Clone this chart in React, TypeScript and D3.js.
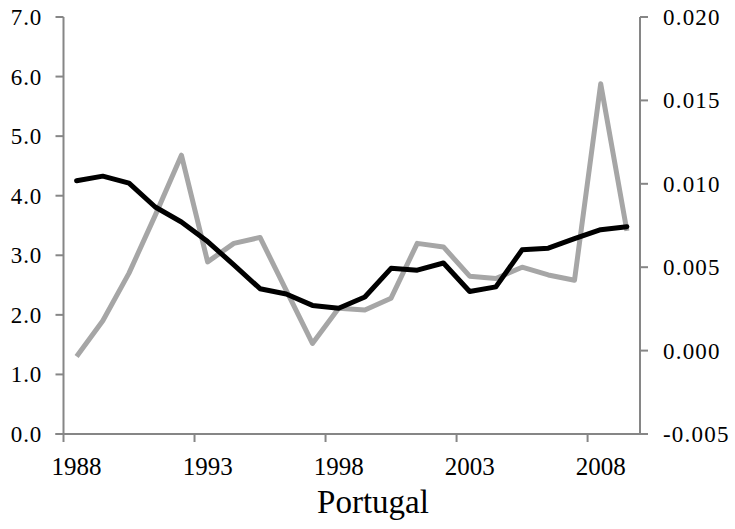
import { useEffect, useRef } from 'react';
import * as d3 from 'd3';

const years = d3.range(1988, 2010).map(String);
const grayValues = [1.30, 1.90, 2.70, 3.67, 4.68, 2.89, 3.20, 3.30, 2.41, 1.52, 2.11, 2.08, 2.28, 3.20, 3.14, 2.65, 2.61, 2.80, 2.67, 2.58, 5.88, 3.41];
const blackValues = [0.01018, 0.01046, 0.01004, 0.00861, 0.00771, 0.00654, 0.00514, 0.00371, 0.00339, 0.00271, 0.00254, 0.00321, 0.00493, 0.00482, 0.00525, 0.00354, 0.00382, 0.00604, 0.00614, 0.00671, 0.00725, 0.00743];
const leftTicks = [0, 1, 2, 3, 4, 5, 6, 7];
const rightTicks = [-0.005, 0, 0.005, 0.01, 0.015, 0.02];
const yearLabels = ['1988', '1993', '1998', '2003', '2008'];
const title = 'Portugal';

export default function App() {
  const ref = useRef<SVGSVGElement>(null);

  useEffect(() => {
    const svg = d3.select(ref.current);
    svg.selectAll('*').remove();

    const left = 63.5, right = 640, top = 17, bottom = 434;
    const axisColor = '#868686';
    const font = '"Liberation Serif", "Times New Roman", serif';

    const x = d3.scaleBand<string>().domain(years).range([left, right]).padding(0);
    const yL = d3.scaleLinear().domain([0, 7]).range([bottom, top]);
    const yR = d3.scaleLinear().domain([-0.005, 0.02]).range([bottom, top]);
    const cx = (i: number) => (x(years[i]) as number) + x.bandwidth() / 2;

    // axes
    const g = svg.append('g');
    g.append('line').attr('x1', left).attr('x2', left).attr('y1', top).attr('y2', bottom)
      .attr('stroke', axisColor).attr('stroke-width', 2);
    g.append('line').attr('x1', right).attr('x2', right).attr('y1', top).attr('y2', bottom)
      .attr('stroke', axisColor).attr('stroke-width', 2);
    g.append('line').attr('x1', left - 8).attr('x2', right + 8).attr('y1', bottom).attr('y2', bottom)
      .attr('stroke', axisColor).attr('stroke-width', 2);

    leftTicks.forEach(t => {
      g.append('line').attr('x1', left - 8).attr('x2', left).attr('y1', yL(t)).attr('y2', yL(t))
        .attr('stroke', axisColor).attr('stroke-width', 2);
      g.append('text').attr('x', 42).attr('y', yL(t) + 8).attr('text-anchor', 'end')
        .attr('font-family', font).attr('font-size', 23).attr('fill', '#000')
        .attr('letter-spacing', 0.8)
        .text(d3.format('.1f')(t));
    });

    rightTicks.forEach(t => {
      g.append('line').attr('x1', right).attr('x2', right + 8).attr('y1', yR(t)).attr('y2', yR(t))
        .attr('stroke', axisColor).attr('stroke-width', 2);
      g.append('text').attr('x', 663).attr('y', yR(t) + 8).attr('text-anchor', 'start')
        .attr('font-family', font).attr('font-size', 23).attr('fill', '#000')
        .attr('letter-spacing', 1.2)
        .text(t < 0 ? '-' + d3.format('.3f')(-t) : d3.format('.3f')(t));
    });

    // x ticks at category boundaries, every 5 years
    yearLabels.forEach(yr => {
      const bx = x(yr) as number;
      g.append('line').attr('x1', bx).attr('x2', bx).attr('y1', bottom).attr('y2', bottom + 8)
        .attr('stroke', axisColor).attr('stroke-width', 2);
      g.append('text').attr('x', bx + x.bandwidth() / 2).attr('y', 475).attr('text-anchor', 'middle')
        .attr('font-family', font).attr('font-size', 25).attr('fill', '#000')
        .text(yr);
    });

    g.append('text').attr('x', 373).attr('y', 513).attr('text-anchor', 'middle')
      .attr('font-family', font).attr('font-size', 33).attr('fill', '#000')
      .text(title);

    // series
    const grayLine = d3.line<number>().x((_, i) => cx(i)).y(d => yL(d));
    const blackLine = d3.line<number>().x((_, i) => cx(i)).y(d => yR(d));

    svg.append('path').datum(grayValues).attr('d', grayLine)
      .attr('fill', 'none').attr('stroke', '#a6a6a6').attr('stroke-width', 5)
      .attr('stroke-linejoin', 'round');
    svg.append('path').datum(blackValues).attr('d', blackLine)
      .attr('fill', 'none').attr('stroke', '#000').attr('stroke-width', 5)
      .attr('stroke-linejoin', 'round').attr('stroke-linecap', 'round');
  }, []);

  return (
    <div style={{ position: 'absolute', left: 0, top: 0 }}>
      <svg ref={ref} width={735} height={529} style={{ display: 'block', background: '#fff' }} />
    </div>
  );
}
